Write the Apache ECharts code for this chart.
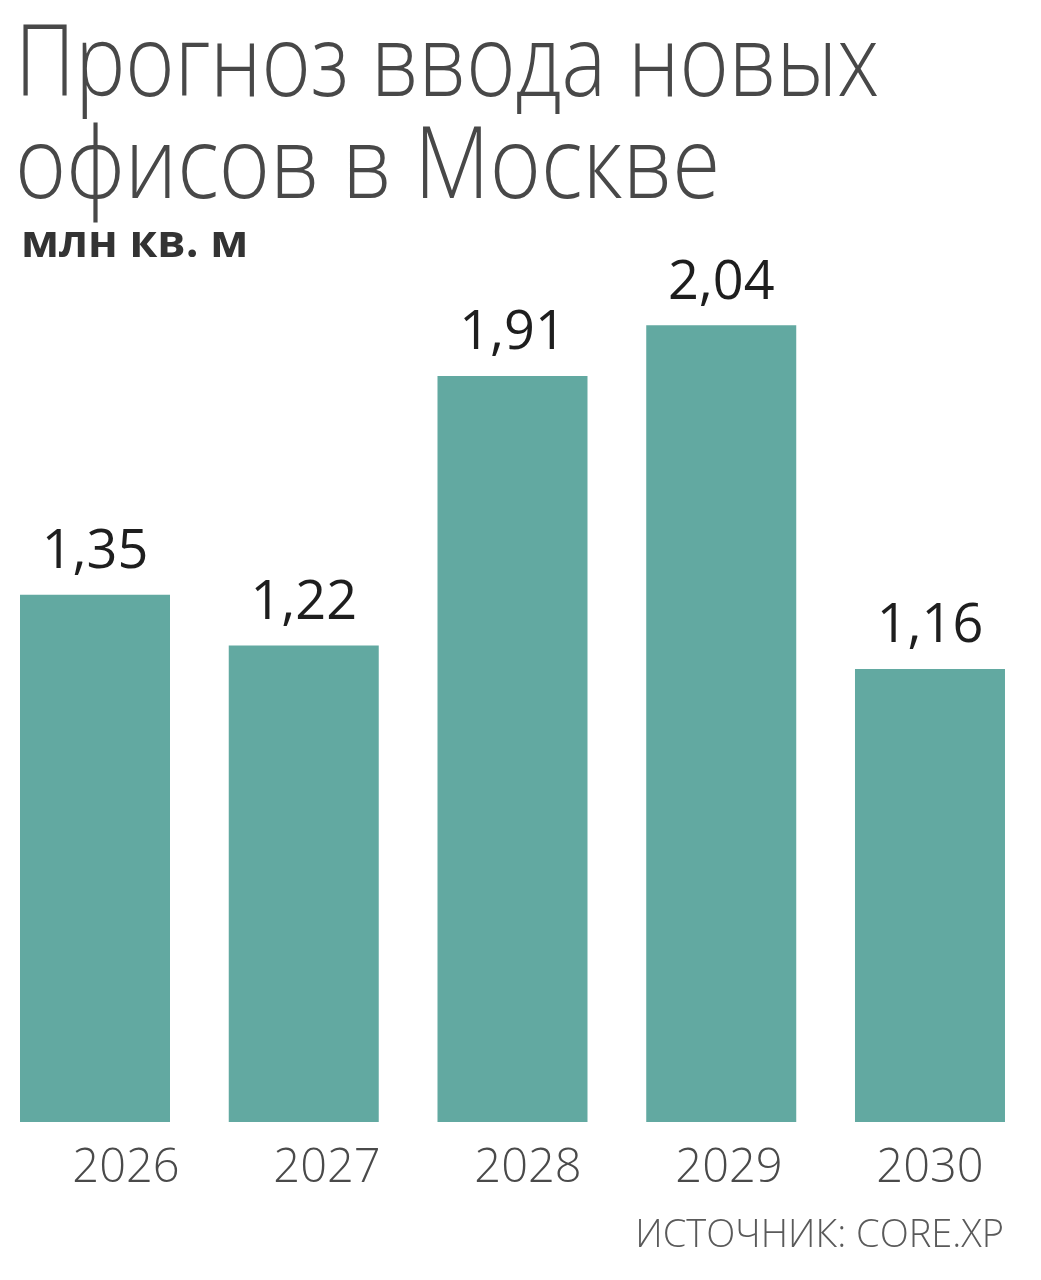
<!DOCTYPE html>
<html>
<head>
<meta charset="utf-8">
<script src="https://cdn.jsdelivr.net/npm/echarts@6/dist/echarts.min.js"></script>
<style>
html,body{margin:0;padding:0;background:#fff;}
#chart{width:1041px;height:1280px;}
</style>
</head>
<body>
<div id="chart"></div>
<script>
const titleLine1 = 'Прогноз ввода новых';
const titleLine2 = 'офисов в Москве';
const unitText = 'млн кв. м';
const sourceText = 'ИСТОЧНИК: CORE.XP';
const years = ['2026', '2027', '2028', '2029', '2030'];
const values = [1.35, 1.22, 1.91, 2.04, 1.16];

const chart = echarts.init(document.getElementById('chart'), null, {renderer: 'canvas'});
const light = "300 100px 'Open Sans', sans-serif";
chart.setOption({
  backgroundColor: '#ffffff',
  animation: false,
  title: [
    {
      text: unitText,
      left: 16,
      top: 217,
      textStyle: {fontFamily: "'Open Sans', sans-serif", fontWeight: 'bold', fontSize: 45, color: '#333333'}
    },
    {
      text: sourceText,
      right: 32,
      top: 1212,
      textStyle: {fontFamily: "'Open Sans', sans-serif", fontWeight: 300, fontSize: 38, color: '#5a5a5a'}
    }
  ],
  graphic: [
    {type: 'text', x: 15, y: 68, scaleX: 0.842, scaleY: 1,
     style: {text: titleLine1, font: light, fill: '#484848', textAlign: 'left', verticalAlign: 'middle'}},
    {type: 'text', x: 15, y: 170, scaleX: 0.874, scaleY: 1,
     style: {text: titleLine2, font: light, fill: '#484848', textAlign: 'left', verticalAlign: 'middle'}}
  ],
  grid: [
    {left: 0, right: 0, top: 145.5, bottom: 158},
    {left: 25.5, width: 1005, top: 145.5, bottom: 158}
  ],
  xAxis: [
    {type: 'value', gridIndex: 0, min: -0.4551, max: 4.5318, show: false, splitLine: {show: false}},
    {type: 'category', gridIndex: 1, data: years, axisLine: {show: false}, axisTick: {show: false},
     axisLabel: {show: true, margin: 23, fontFamily: "'Open Sans', sans-serif", fontWeight: 300, fontSize: 47, color: '#4a4a4a'}}
  ],
  yAxis: [
    {type: 'value', gridIndex: 0, min: 0, max: 2.5, show: false},
    {type: 'value', gridIndex: 1, min: 0, max: 2.5, show: false}
  ],
  series: [
    {
      type: 'bar',
      xAxisIndex: 0,
      yAxisIndex: 0,
      data: values.map((v, i) => [i, v]),
      barWidth: 150,
      itemStyle: {color: '#62a9a1'},
      label: {
        show: true,
        position: 'top',
        distance: 15,
        formatter: p => p.value[1].toFixed(2).replace('.', ','),
        fontFamily: "'Open Sans', sans-serif",
        fontSize: 54,
        color: '#1e1e1e'
      }
    }
  ]
});
</script>
</body>
</html>
